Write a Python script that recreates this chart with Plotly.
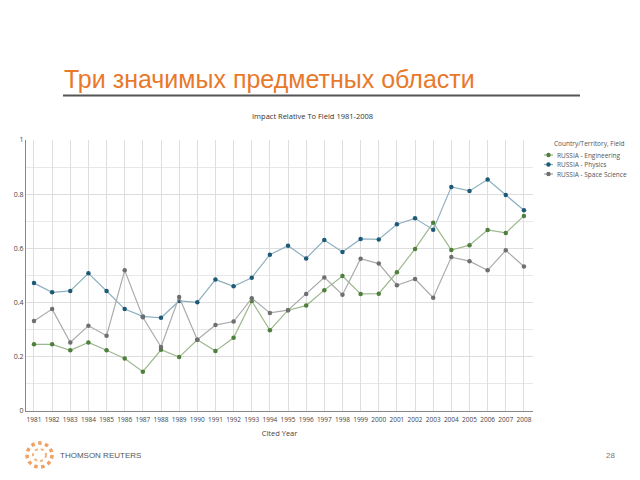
import plotly.graph_objects as go

years = list(range(1981, 2009))
engineering = [0.246, 0.246, 0.224, 0.253, 0.224, 0.194, 0.145, 0.226, 0.199, 0.263,
               0.221, 0.270, 0.406, 0.298, 0.372, 0.389, 0.446, 0.498, 0.432, 0.433,
               0.512, 0.598, 0.695, 0.594, 0.612, 0.668, 0.657, 0.720]
physics = [0.472, 0.438, 0.443, 0.508, 0.443, 0.376, 0.349, 0.344, 0.406, 0.401,
           0.485, 0.460, 0.492, 0.577, 0.610, 0.563, 0.631, 0.587, 0.635, 0.633,
           0.689, 0.711, 0.669, 0.827, 0.812, 0.854, 0.797, 0.741]
space = [0.332, 0.376, 0.253, 0.315, 0.278, 0.519, 0.346, 0.236, 0.421, 0.263,
         0.317, 0.330, 0.416, 0.362, 0.372, 0.432, 0.493, 0.429, 0.562, 0.544,
         0.464, 0.487, 0.418, 0.568, 0.553, 0.519, 0.593, 0.533]
y_ticks = [0, 0.2, 0.4, 0.6, 0.8, 1]
y_tick_labels = ["0", "0.2", "0.4", "0.6", "0.8", "1"]

series = [
    ("RUSSIA - Engineering", engineering, "#9db88e", "#4f7f3c"),
    ("RUSSIA - Physics", physics, "#8fb0bf", "#1d5a78"),
    ("RUSSIA - Space Science", space, "#ababab", "#6f6f6f"),
]

L, R, T, B = 26, 533, 140, 411
W, H = R - L, B - T
def px(x): return (x - L) / W
def py(y): return (B - y) / H

fig = go.Figure()
for name, vals, lc, mc in series:
    fig.add_trace(go.Scatter(
        x=years, y=vals, name=name, mode="lines+markers",
        line=dict(color=lc, width=1.2),
        marker=dict(color=mc, size=4.5),
    ))

fig.update_layout(
    width=640, height=480,
    margin=dict(l=L, r=640 - R, t=T, b=480 - B, autoexpand=False),
    paper_bgcolor="white", plot_bgcolor="white",
    font=dict(family="Open Sans", color="#444"),
    showlegend=False,
    xaxis=dict(
        range=[1980.56, 2008.5], tickmode="array", tickvals=years,
        ticktext=[str(y) for y in years], tickfont=dict(size=6.5, color="#444"),
        tickangle=0, ticklabelstandoff=2,
        showgrid=True, gridcolor="#dedede", gridwidth=1,
        showline=True, linecolor="#888", linewidth=1,
        ticks="", zeroline=False,
        title=dict(text="Cited Year", font=dict(size=7.5, color="#444"), standoff=7),
    ),
    yaxis=dict(
        range=[0, 1], tickmode="array", tickvals=y_ticks, ticktext=y_tick_labels,
        tickfont=dict(size=7, color="#444"),
        showgrid=True, gridcolor="#dedede", gridwidth=1,
        minor=dict(dtick=0.1, showgrid=True, gridcolor="#e8e8e8"),
        showline=True, linecolor="#888", linewidth=1,
        ticks="", zeroline=False,
    ),
)

# custom legend
fig.add_annotation(
    text="Country/Territory, Field", xref="paper", yref="paper",
    x=px(552), y=py(143), xanchor="left", yanchor="middle", showarrow=False,
    font=dict(size=6.5, color="#555"),
)
for i, (name, vals, lc, mc) in enumerate(series):
    yy = 155 + i * 9.5
    fig.add_shape(type="line", xref="paper", yref="paper",
                  x0=px(544), x1=px(553), y0=py(yy), y1=py(yy),
                  line=dict(color=lc, width=1.3))
    fig.add_shape(type="circle", xref="paper", yref="paper",
                  x0=px(546.3), x1=px(550.7), y0=py(yy + 2.2), y1=py(yy - 2.2),
                  fillcolor=mc, line=dict(color=mc, width=0))
    fig.add_annotation(
        text=name, xref="paper", yref="paper",
        x=px(555), y=py(yy), xanchor="left", yanchor="middle", showarrow=False,
        font=dict(size=6.5, color="#555"),
    )

fig.add_annotation(
    text="Три значимых предметных области", xref="paper", yref="paper",
    x=px(62), y=py(95), xanchor="left", yanchor="bottom", showarrow=False,
    font=dict(family="Liberation Sans", size=25, color="#e8792b"),
)
fig.add_shape(type="line", xref="paper", yref="paper",
              x0=px(63), x1=px(580), y0=py(95.5), y1=py(95.5),
              line=dict(color="#555", width=2))
fig.add_annotation(
    text="Impact Relative To Field 1981-2008", xref="paper", yref="paper",
    x=px(312), y=py(116), xanchor="center", yanchor="middle", showarrow=False,
    font=dict(size=7.5, color="#333"),
)
# logo
fig.add_shape(type="circle", xref="paper", yref="paper",
              x0=px(27), x1=px(52), y0=py(467), y1=py(443),
              line=dict(color="#f0a060", width=3.5, dash="dot"))
fig.add_shape(type="circle", xref="paper", yref="paper",
              x0=px(33), x1=px(46), y0=py(461), y1=py(449),
              line=dict(color="#f4b27a", width=2, dash="dot"))
fig.add_annotation(
    text="THOMSON REUTERS", xref="paper", yref="paper",
    x=px(58), y=py(455), xanchor="left", yanchor="middle", showarrow=False,
    font=dict(family="Liberation Sans", size=8, color="#555"),
)
fig.add_annotation(
    text="28", xref="paper", yref="paper",
    x=px(617), y=py(455), xanchor="right", yanchor="middle", showarrow=False,
    font=dict(family="Liberation Sans", size=8, color="#777"),
)

fig.write_html("out.html")
